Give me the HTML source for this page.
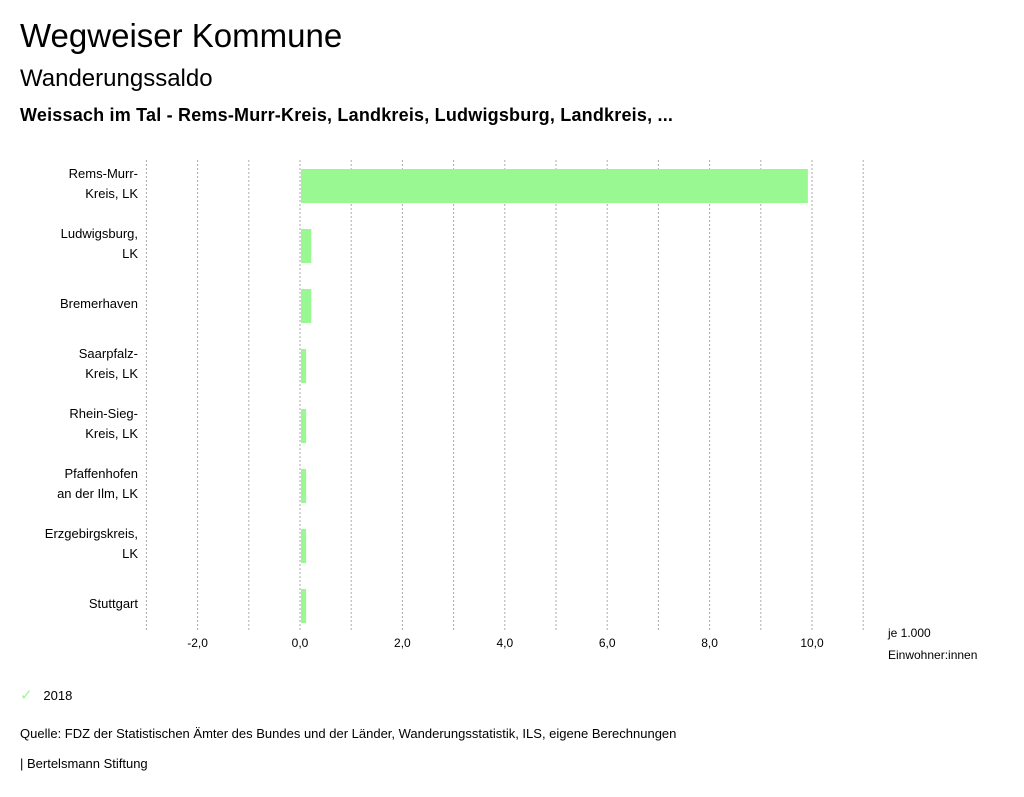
<!DOCTYPE html>
<html><head><meta charset="utf-8"><style>
body{margin:0;width:1024px;height:797px;background:#fff;font-family:"Liberation Sans","DejaVu Sans",sans-serif;color:#000;overflow:hidden;position:relative}
.t{position:absolute;white-space:nowrap}
</style></head><body>
<div class="t" style="left:20px;top:17px;font-size:33px">Wegweiser Kommune</div>
<div class="t" style="left:20px;top:65px;font-size:24px">Wanderungssaldo</div>
<div class="t" style="left:20px;top:105px;font-size:18px;font-weight:bold;letter-spacing:0.2px">Weissach im Tal - Rems-Murr-Kreis, Landkreis, Ludwigsburg, Landkreis, ...</div>
<svg id="chart" width="1024" height="797" style="position:absolute;left:0;top:0"></svg>
<div class="t" style="left:20px;top:686px;font-size:13px"><span style="color:#99f891;font-size:15px">✓</span>&nbsp;&nbsp;&nbsp;2018</div>
<div class="t" style="left:20px;top:726px;font-size:13px">Quelle: FDZ der Statistischen Ämter des Bundes und der Länder, Wanderungsstatistik, ILS, eigene Berechnungen</div>
<div class="t" style="left:20px;top:756px;font-size:13px">| Bertelsmann Stiftung</div>
<script>
const categories=[["Rems-Murr-","Kreis, LK"],["Ludwigsburg,","LK"],["Bremerhaven"],["Saarpfalz-","Kreis, LK"],["Rhein-Sieg-","Kreis, LK"],["Pfaffenhofen","an der Ilm, LK"],["Erzgebirgskreis,","LK"],["Stuttgart"]];
const values2018=[9.9,0.2,0.2,0.1,0.1,0.1,0.1,0.1];
const tickValues=[-2,0,2,4,6,8,10];
const tickLabels=["-2,0","0,0","2,0","4,0","6,0","8,0","10,0"];
const gridValues=[-3,-2,-1,0,1,2,3,4,5,6,7,8,9,10,11];
const svg=document.getElementById('chart');const NS='http://www.w3.org/2000/svg';
const xs=v=>300+v*51.2;
const plotTop=160,plotBottom=632,band=60;
const yc=i=>186+i*band;
function mk(t,a){const e=document.createElementNS(NS,t);for(const k in a)e.setAttribute(k,a[k]);svg.appendChild(e);return e;}
gridValues.forEach(g=>{const l=mk('line',{x1:xs(g),x2:xs(g),y1:plotTop,y2:plotBottom,stroke:'#aaa','stroke-width':1,'stroke-dasharray':'2,2'});

});
values2018.forEach((v,i)=>{const x0=Math.min(xs(0),xs(v))+1;const r=mk('rect',{x:x0,y:yc(i)-17,width:Math.abs(xs(v)-xs(0)),height:34,fill:'#99f891'});

});
categories.forEach((c,i)=>{const n=c.length;c.forEach((s,j)=>{const t=mk('text',{x:138,y:yc(i)+2+(j-(n-1)/2)*20,'text-anchor':'end','font-size':13});t.textContent=s;

});});
tickValues.forEach((v,i)=>{const t=mk('text',{x:xs(v),y:647,'text-anchor':'middle','font-size':12});t.textContent=tickLabels[i];

});
[["je 1.000",637],["Einwohner:innen",659]].forEach(a=>{const t=mk('text',{x:888,y:a[1],'font-size':12});t.textContent=a[0];

});
</script>
</body></html>
